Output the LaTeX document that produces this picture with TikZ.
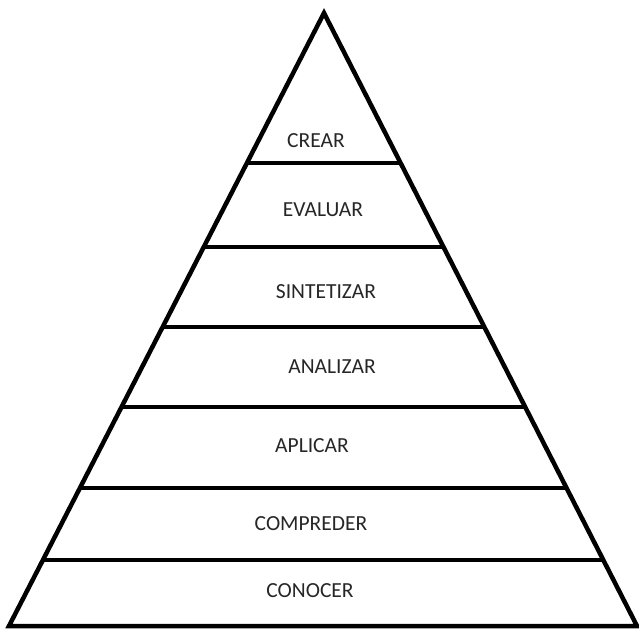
\documentclass[tikz,border=0pt]{standalone}
\usepackage{fontspec}
\setmainfont{Carlito}
\usetikzlibrary{calc}

\begin{document}
\begin{tikzpicture}[x=1pt,y=-1pt,line width=4.5pt,
  level/.style={font=\fontsize{21.5}{24}\selectfont,text=black!85,inner sep=0pt}]
\useasboundingbox (0,0) rectangle (639,629);
\coordinate (top) at (324,13);
\coordinate (bl) at (9,626);
\coordinate (br) at (637,626);

\draw[line join=miter] (top) -- (br) -- (bl) -- cycle;

% niveles
\draw ($(top)!0.2447!(bl)$) -- ($(top)!0.2447!(br)$);
\draw ($(top)!0.3817!(bl)$) -- ($(top)!0.3817!(br)$);
\draw ($(top)!0.5122!(bl)$) -- ($(top)!0.5122!(br)$);
\draw ($(top)!0.6427!(bl)$) -- ($(top)!0.6427!(br)$);
\draw ($(top)!0.7749!(bl)$) -- ($(top)!0.7749!(br)$);
\draw ($(top)!0.8923!(bl)$) -- ($(top)!0.8923!(br)$);

\node[level] (crear) at (316,141) {CREAR};
\node[level] (evaluar) at (323,210) {EVALUAR};
\node[level] (sintetizar) at (326,292) {SINTETIZAR};
\node[level] (analizar) at (332,367) {ANALIZAR};
\node[level] (aplicar) at (312,446) {APLICAR};
\node[level] (compreder) at (311,524) {COMPREDER};
\node[level] (conocer) at (310,591) {CONOCER};
\end{tikzpicture}
\end{document}
